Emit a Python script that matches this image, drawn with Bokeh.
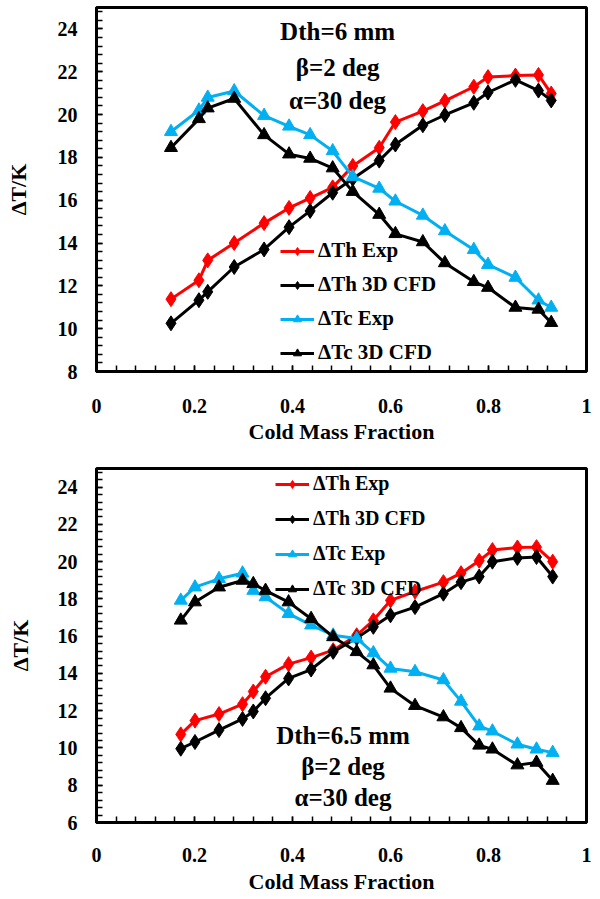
from bokeh.plotting import figure
from bokeh.models import Range1d, FixedTicker, Legend, LegendItem, Label, NumeralTickFormatter
from bokeh.layouts import column
from bokeh.embed import file_html
from bokeh.resources import INLINE

# ---------------- Data: top chart (Dth = 6 mm) ----------------
x_top = [0.152, 0.209, 0.227, 0.281, 0.342, 0.393, 0.436, 0.482, 0.523, 0.577,
         0.61, 0.666, 0.711, 0.770, 0.799, 0.855, 0.902, 0.928]
th_exp_top = [11.38, 12.26, 13.19, 14.0, 14.93, 15.64, 16.1, 16.6, 17.6, 18.45,
              19.65, 20.16, 20.64, 21.3, 21.75, 21.82, 21.85, 20.98]
th_cfd_top = [10.25, 11.33, 11.72, 12.88, 13.7, 14.74, 15.5, 16.35, 17.0, 17.85,
              18.6, 19.5, 19.98, 20.55, 21.03, 21.62, 21.12, 20.66]
tc_exp_top = [19.2, 20.2, 20.8, 21.1, 19.95, 19.45, 19.05, 18.3, 17.1, 16.55,
              15.95, 15.29, 14.56, 13.69, 12.99, 12.39, 11.33, 10.99]
tc_cfd_top = [18.45, 19.8, 20.3, 20.75, 19.05, 18.15, 17.95, 17.5, 16.4, 15.33,
              14.43, 14.05, 13.07, 12.19, 11.92, 10.99, 10.9, 10.28]

# ---------------- Data: bottom chart (Dth = 6.5 mm) ----------------
x_bot = [0.172, 0.201, 0.25, 0.298, 0.32, 0.345, 0.392, 0.438, 0.483, 0.531,
         0.565, 0.6, 0.65, 0.708, 0.744, 0.781, 0.808, 0.859, 0.898, 0.931]
th_exp_bot = [10.73, 11.47, 11.82, 12.35, 13.03, 13.82, 14.5, 14.85, 15.25, 16.05,
              16.85, 17.92, 18.4, 18.9, 19.38, 20.05, 20.62, 20.76, 20.78, 20.0]
th_cfd_bot = [9.96, 10.32, 10.96, 11.56, 11.96, 12.67, 13.73, 14.21, 15.16, 15.9,
              16.5, 17.12, 17.56, 18.28, 18.9, 19.2, 20.0, 20.2, 20.25, 19.2]
tc_exp_bot = [17.92, 18.63, 19.08, 19.38, 18.45, 18.1, 17.21, 16.59, 16.05, 15.88,
              15.1, 14.27, 14.09, 13.65, 12.5, 11.17, 10.9, 10.2, 9.93, 9.75]
tc_cfd_bot = [16.85, 17.83, 18.63, 18.99, 18.81, 18.45, 17.83, 16.94, 15.96, 15.16,
              14.45, 13.2, 12.27, 11.66, 11.08, 10.14, 9.93, 9.08, 9.22, 8.25]

series_labels = ["ΔTh Exp", "ΔTh 3D CFD", "ΔTc Exp", "ΔTc 3D CFD"]
x_major = [0, 0.2, 0.4, 0.6, 0.8, 1]
x_title = "Cold Mass Fraction"
y_title = "ΔT/K"
notes_top = ["Dth=6 mm", "β=2 deg", "α=30 deg"]
notes_bot = ["Dth=6.5 mm", "β=2 deg", "α=30 deg"]

FONT = "Liberation Serif"
RED = "#FF0000"
CYAN = "#00B0F0"
BLACK = "#000000"


def make_fig(x, ys, ymin, ymax, height, mb_left, mb_right, mb_top, mb_bottom,
             title_standoff, label_standoff_x, xtitle_standoff, legend_loc,
             legend_font, legend_spacing, notes, note_x, note_ys):
    p = figure(width=600, height=height, output_backend="svg", toolbar_location=None,
               x_range=Range1d(0, 1), y_range=Range1d(ymin, ymax),
               min_border_left=mb_left, min_border_right=mb_right,
               min_border_top=mb_top, min_border_bottom=mb_bottom)
    p.grid.visible = False
    p.background_fill_color = "white"
    p.border_fill_color = "white"
    p.outline_line_color = BLACK
    p.outline_line_width = 3

    x_minor = [round(0.04 * i, 2) for i in range(26)]
    y_major = list(range(ymin, ymax, 2))
    y_minor = [round(ymin + 0.4 * i, 1) for i in range(int((ymax - ymin) / 0.4) + 1)]
    p.xaxis.ticker = FixedTicker(ticks=x_major, minor_ticks=x_minor)
    p.yaxis.ticker = FixedTicker(ticks=y_major, minor_ticks=y_minor)
    p.xaxis.formatter = NumeralTickFormatter(format="0.[0]")
    p.yaxis.formatter = NumeralTickFormatter(format="0")

    for ax in (p.xaxis, p.yaxis):
        ax.axis_line_color = BLACK
        ax.axis_line_width = 3
        ax.major_tick_in = 6
        ax.major_tick_out = 0
        ax.minor_tick_in = 6
        ax.minor_tick_out = 0
        ax.major_tick_line_width = 1.5
        ax.minor_tick_line_width = 1.5
        ax.major_tick_line_color = BLACK
        ax.minor_tick_line_color = BLACK
        ax.major_label_text_font = FONT
        ax.major_label_text_font_style = "bold"
        ax.major_label_text_font_size = "20px"
        ax.major_label_text_color = BLACK
        ax.axis_label_text_font = FONT
        ax.axis_label_text_font_style = "bold"
        ax.axis_label_text_font_size = "22px"
        ax.axis_label_text_color = BLACK

    p.xaxis.axis_label = x_title
    p.yaxis.axis_label = y_title
    p.yaxis.major_label_standoff = 19
    p.yaxis.axis_label_standoff = title_standoff
    p.xaxis.major_label_standoff = label_standoff_x
    p.xaxis.axis_label_standoff = xtitle_standoff

    styles = [(RED, "diamond", 15), (BLACK, "diamond", 15),
              (CYAN, "triangle", 13), (BLACK, "triangle", 13)]
    items = []
    for (color, marker, size), y, lab in zip(styles, ys, series_labels):
        rl = p.line(x, y, line_color=color, line_width=3)
        rs = p.scatter(x, y, marker=marker, size=size, fill_color=color,
                       line_color=color)
        items.append(LegendItem(label=lab, renderers=[rl, rs]))

    legend = Legend(items=items, location=legend_loc, orientation="vertical",
                    label_text_font=FONT, label_text_font_style="bold",
                    label_text_font_size=legend_font, label_text_color=BLACK,
                    glyph_width=34, glyph_height=20, label_height=20,
                    spacing=legend_spacing, padding=0, margin=0, label_standoff=4,
                    border_line_alpha=0, background_fill_alpha=0)
    p.add_layout(legend)

    for txt, ny in zip(notes, note_ys):
        p.add_layout(Label(x=note_x, y=ny, text=txt, text_font=FONT,
                           text_font_style="bold", text_font_size="25px",
                           text_align="center", text_baseline="middle",
                           text_color=BLACK))
    return p


p_top = make_fig(x_top, [th_exp_top, th_cfd_top, tc_exp_top, tc_cfd_top],
                 8, 25, 450, 96, 14, 7, 79, 24, 27, 3, (184, 6), "21px", 9,
                 notes_top, 0.492, [23.9, 22.2, 20.66])
p_bot = make_fig(x_bot, [th_exp_bot, th_cfd_bot, tc_exp_bot, tc_cfd_bot],
                 6, 25, 449, 88, 13, 18, 77, 22, 25, 4, (179, 222), "20px", 12,
                 notes_bot, 0.503, [10.67, 9.0, 7.34])

layout = column(p_top, p_bot, spacing=0)
open("out.html", "w").write(file_html(layout, INLINE))
